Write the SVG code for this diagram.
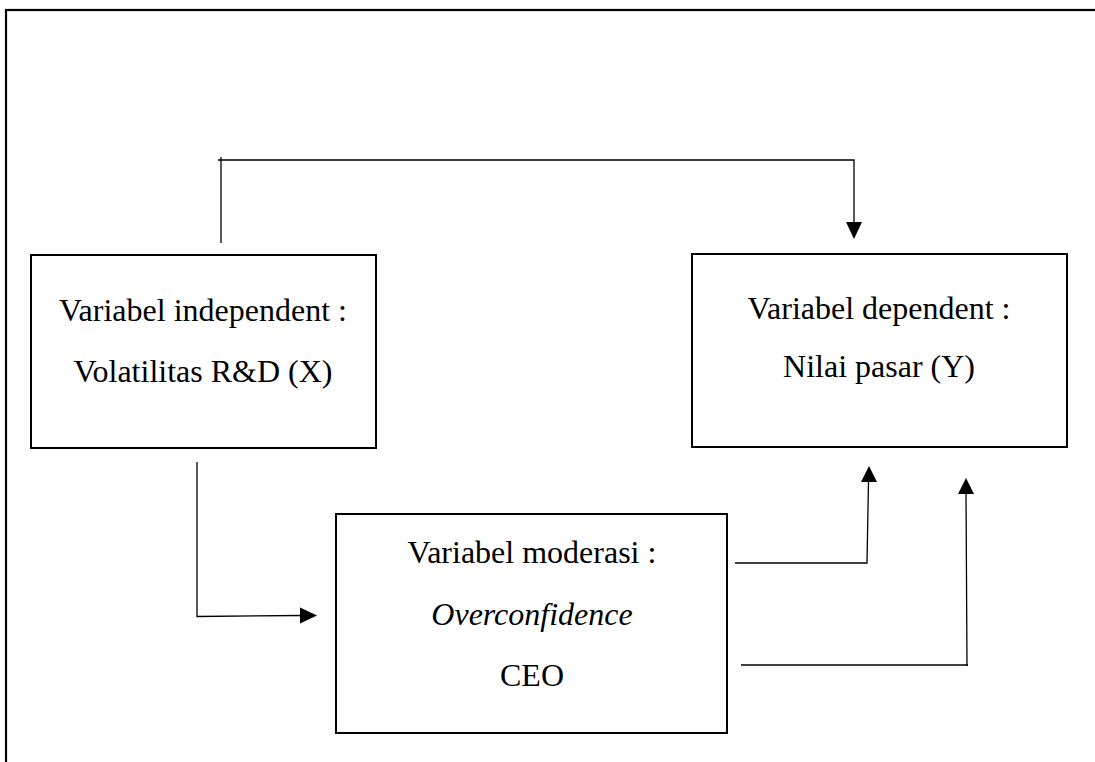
<svg xmlns="http://www.w3.org/2000/svg" width="1095" height="762" viewBox="0 0 1095 762">
<style>
.box{fill:#fff;stroke:#000;stroke-width:2}
.frame{fill:none;stroke:#000;stroke-width:2.2}
.conn{fill:none;stroke:#000;stroke-width:1.3}
.ah{fill:#000;stroke:none}
text{font-family:"Liberation Serif","Times New Roman",serif;font-size:32px;fill:#000;text-anchor:middle}
.it{font-style:italic}
</style>
<rect class="frame" x="6" y="10" width="1110" height="780"/>
<g id="connectors">
  <path class="conn" d="M221,243 V157 M218,160 H854 V224"/>
  <polygon class="ah" points="846,222 862,222 854,239"/>
  <path class="conn" d="M197,462 V616.5 L302,615.5"/>
  <polygon class="ah" points="300,607.5 300,623.5 317,615.5"/>
  <path class="conn" d="M735,563 H867 L868.5,481"/>
  <polygon class="ah" points="861,482 877,482 869,466"/>
  <path class="conn" d="M741,665 H968 M967,666 L966,492"/>
  <polygon class="ah" points="958,494 974,494 966,478"/>
</g>
<g id="node-independent">
  <rect class="box" x="31" y="255" width="345" height="193"/>
  <text x="203" y="321">Variabel independent :</text>
  <text x="203" y="382">Volatilitas R&amp;D (X)</text>
</g>
<g id="node-dependent">
  <rect class="box" x="692" y="254" width="375" height="193"/>
  <text x="879" y="319">Variabel dependent :</text>
  <text x="879" y="377">Nilai pasar (Y)</text>
</g>
<g id="node-moderasi">
  <rect class="box" x="336" y="514" width="391" height="219"/>
  <text x="532" y="563">Variabel moderasi :</text>
  <text x="532" y="625" class="it">Overconfidence</text>
  <text x="532" y="686">CEO</text>
</g>
</svg>
